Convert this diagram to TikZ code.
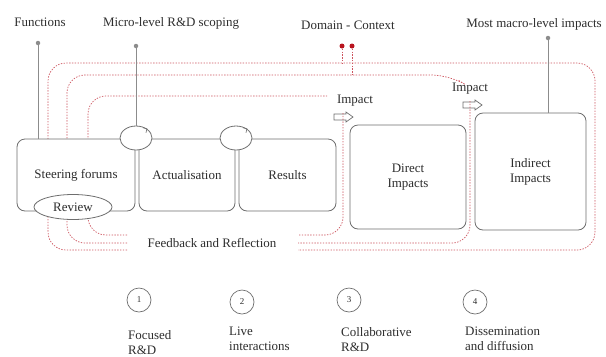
\documentclass[tikz,border=0pt]{standalone}
\usepackage{fontspec}
\setmainfont{Liberation Serif}
\usetikzlibrary{shapes.geometric}
\definecolor{linegray}{RGB}{110,110,110}
\definecolor{pingray}{RGB}{140,140,140}
\definecolor{textgray}{RGB}{45,45,45}
\definecolor{loopred}{RGB}{205,85,95}
\definecolor{dotred}{RGB}{185,20,30}

\begin{document}
\begin{tikzpicture}[x=1bp, y=-1bp,
  every node/.style={font=\fontsize{13}{15}\selectfont, text=textgray},
  box/.style={draw=linegray, line width=0.8bp, rounded corners=8bp, fill=white, align=center},
  scope/.style={ellipse, draw=linegray, line width=0.8bp, fill=white, minimum width=32bp, minimum height=24bp, inner sep=0},
  impact/.style={draw=linegray, line width=0.7bp, fill=white},
  loop/.style={draw=loopred, line width=0.7bp, dash pattern=on 1.4bp off 1.4bp, rounded corners=18bp},
  pindot/.style={circle, fill=pingray, inner sep=0, minimum size=4.5bp},
  pinline/.style={draw=pingray, line width=0.7bp},
  reddot/.style={circle, fill=dotred, inner sep=0, minimum size=5bp},
  numcirc/.style={circle, draw=linegray, line width=0.7bp, minimum size=24bp, inner sep=0, font=\fontsize{9}{10}\selectfont},
  phase/.style={anchor=north west, align=left, inner sep=0}]
  \useasboundingbox (0,0) rectangle (606,356);

  % impact markers
  \node (imp1) at (355,101) {Impact};
  \coordinate (arr1) at (343,117);
  \draw[impact] ([shift={(-9,-3)}]arr1) -- ++(12,0) -- ++(0,-2) -- ++(7,5) -- ++(-7,5) -- ++(0,-2) -- ++(-12,0) -- cycle;
  \node (imp2) at (470,89) {Impact};
  \coordinate (arr2) at (470,105);
  \draw[impact] ([shift={(-7,-3)}]arr2) -- ++(12,0) -- ++(0,-2) -- ++(7,5) -- ++(-7,5) -- ++(0,-2) -- ++(-12,0) -- cycle;

  % feedback loops
  \draw[loop] (127,250) -- (48,250) -- (48,63) -- (595,63) -- (595,250) -- (298,250);
  \draw[loop] (127,243) -- (67,243) -- (67,75) -- (450,75) -- (458,80);
  \draw[loop] ([yshift=4]arr2) -- (470,243) -- (298,243);
  \draw[loop] (127,235) -- (88,235) -- (88,96) -- (327,96);
  \draw[loop] ([yshift=4]arr1) -- (343,235) -- (298,235);
  \node (fbl) at (212,243) {Feedback and Reflection};

  % domain - context
  \node (domlbl) at (348,25) {Domain - Context};
  \node[reddot] (dc1) at (342,46) {};
  \node[reddot] (dc2) at (352,46) {};
  \draw[loop] (dc1) -- (dc1 |- 0,63);
  \draw[loop] (dc2) -- (dc2 |- 0,75);

  % stages
  \node[box, minimum width=118bp, minimum height=72bp] (steer) at (76,175) {Steering forums};
  \node[box, minimum width=96bp, minimum height=72bp] (actual) at (187,175) {Actualisation};
  \node[box, minimum width=97bp, minimum height=72bp] (results) at (287.5,175) {Results};
  \node[box, minimum width=116bp, minimum height=104bp] (direct) at (408,177) {Direct\\Impacts};
  \node[box, minimum width=111bp, minimum height=117bp] (indirect) at (530.5,171.5) {Indirect\\Impacts};
  \node[ellipse, draw=linegray, line width=0.8bp, fill=white, minimum width=78bp, minimum height=25bp, inner sep=0] (review) at (73,207) {Review};

  \node[scope] (scope1) at (136,138) {};
  \node[scope] (scope2) at (236,138) {};
  \draw[linegray, line width=0.6bp] ([shift={(-4,-1)}]scope1.40) -- (scope1.40) -- ([shift={(-1,4)}]scope1.40);
  \draw[linegray, line width=0.6bp] ([shift={(-4,-1)}]scope2.40) -- (scope2.40) -- ([shift={(-1,4)}]scope2.40);

  % functions and levels
  \node (fnlbl) at (40,22) {Functions};
  \node[pindot] (fdot) at (38,43) {};
  \draw[pinline] (fdot) -- (fdot |- steer.north);
  \node (scopelbl) at (171,23) {Micro-level R\&D scoping};
  \node[pindot] (sdot) at (136,46) {};
  \draw[pinline] (sdot) -- (scope1.north);
  \node (macrolbl) at (534,24) {Most macro-level impacts};
  \node[pindot] (mdot) at (548,38) {};
  \draw[pinline] (mdot) -- (mdot |- indirect.north);

  % phases
  \node[numcirc] (n1) at (139,300) {1};
  \node[numcirc] (n2) at (242,302) {2};
  \node[numcirc] (n3) at (349,300) {3};
  \node[numcirc] (n4) at (475,302) {4};
  \node[phase] (ph1) at (128,330) {Focused\\R\&D};
  \node[phase] (ph2) at (229,327) {Live\\interactions};
  \node[phase] (ph3) at (341,327) {Collaborative\\R\&D};
  \node[phase] (ph4) at (465,327) {Dissemination\\and diffusion};
\end{tikzpicture}
\end{document}
